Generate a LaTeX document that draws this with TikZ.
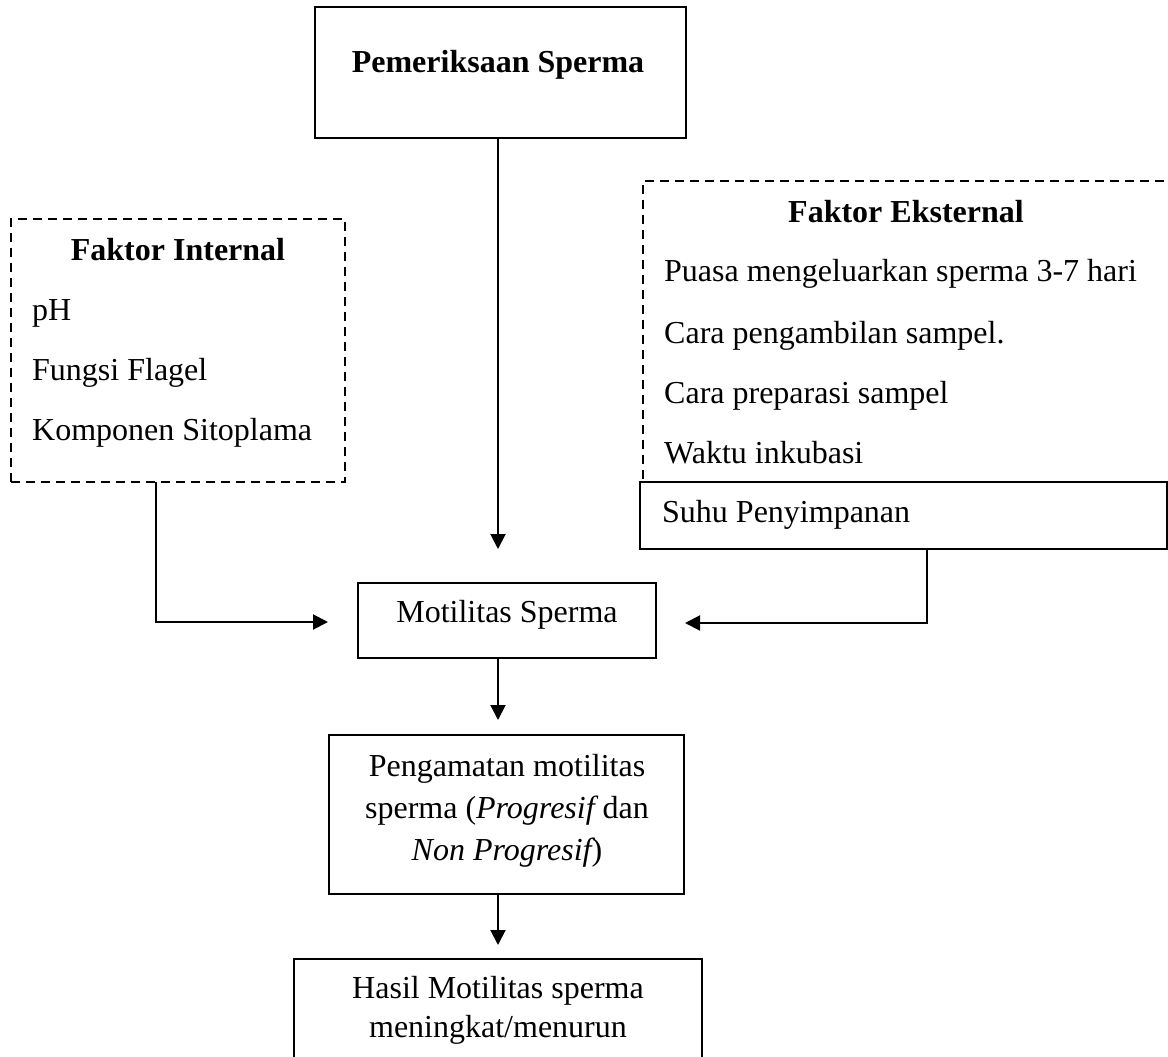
\documentclass[tikz,border=0pt]{standalone}
\usepackage{fontspec}
\setmainfont{Liberation Serif}
\usetikzlibrary{arrows.meta}
\begin{document}
\begin{tikzpicture}[x=1pt,y=-1pt,
  box/.style={draw, line width=2pt, fill=white, inner sep=0pt, outer sep=0pt, anchor=north west},
  dbox/.style={draw, line width=2pt, dash pattern=on 9pt off 6pt, inner sep=0pt, outer sep=0pt, anchor=north west},
  txt/.style={inner sep=0pt, anchor=base, font=\fontsize{32}{38}\selectfont},
  ltxt/.style={txt, anchor=base west},
  btxt/.style={txt, font=\fontsize{32}{38}\selectfont\bfseries},
  arr/.style={line width=2pt, -{Triangle[length=15pt,width=15pt]}}]
\useasboundingbox (0,0) rectangle (1168,1057);
\fill[white] (0,0) rectangle (1168,1057);

% boxes
\node[box, minimum width=371pt, minimum height=131pt] (top) at (315,7) {};
\node[dbox, minimum width=334pt, minimum height=263pt] (int) at (11,219) {};
\node[dbox, minimum width=560pt, minimum height=301pt] (ext) at (643,181) {};
\node[box, line width=1.5pt, minimum width=527pt, minimum height=67pt] (suhu) at (640,482) {};
\node[box, minimum width=298pt, minimum height=75pt] (mot) at (358,583) {};
\node[box, minimum width=355pt, minimum height=159pt] (obs) at (329,735) {};
\node[box, minimum width=408pt, minimum height=130pt] (hasil) at (294,959) {};

% texts
\node[btxt] (t0) at (498,73) {Pemeriksaan Sperma};
\node[btxt] (ti) at (178,260) {Faktor Internal};
\node[ltxt] (ti1) at (32,320) {pH};
\node[ltxt] (ti2) at (32,380) {Fungsi Flagel};
\node[ltxt] (ti3) at (32,440) {Komponen Sitoplama};
\node[btxt] (te) at (906,222) {Faktor Eksternal};
\node[ltxt] (te1) at (664,281) {Puasa mengeluarkan sperma 3-7 hari};
\node[ltxt] (te2) at (664,343) {Cara pengambilan sampel.};
\node[ltxt] (te3) at (664,403) {Cara preparasi sampel};
\node[ltxt] (te4) at (664,463) {Waktu inkubasi};
\node[ltxt] (te5) at (662,522) {Suhu Penyimpanan};
\node[txt] (tm) at (507,622) {Motilitas Sperma};
\node[txt] (to1) at (507,776) {Pengamatan motilitas};
\node[txt] (to2) at (507,818) {sperma ({\itshape Progresif} dan};
\node[txt] (to3) at (507,860) {{\itshape Non Progresif})};
\node[txt] (th1) at (498,998) {Hasil Motilitas sperma};
\node[txt] (th2) at (498,1037) {meningkat/menurun};

% connectors
\coordinate (a1) at (498,549);
\coordinate (a2) at (328,622);
\coordinate (a3) at (685,623);
\coordinate (a4) at (498,720);
\coordinate (a5) at (498,945);
\draw[arr] (top.south -| a1) -- (a1);
\draw[arr] ([xshift=-22pt]int.south) |- (a2);
\draw[arr] ([xshift=23.5pt]suhu.south) |- (a3);
\draw[arr] (mot.south -| a4) -- (a4);
\draw[arr] (obs.south -| a5) -- (a5);
\end{tikzpicture}
\end{document}
